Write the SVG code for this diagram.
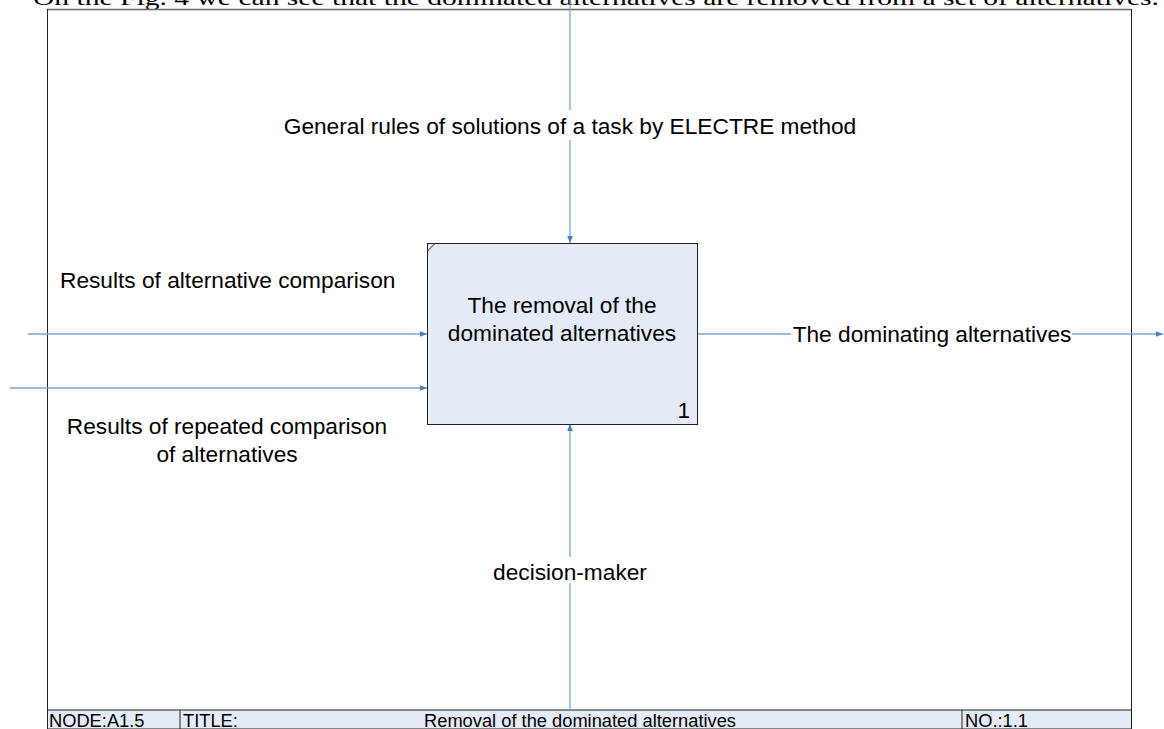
<svg xmlns="http://www.w3.org/2000/svg" width="1164" height="729" viewBox="0 0 1164 729">
<style>
text{font-family:"Liberation Sans",Arial,sans-serif;font-size:22.7px;fill:#000}
.ft{font-size:18.3px}
.ln{stroke:#7fa3d8;stroke-width:1.3;fill:none}
.fr{stroke:#222;stroke-width:1;fill:none}
</style>
<defs>
<marker id="ah" viewBox="0 0 10 10" refX="10" refY="5" markerWidth="7" markerHeight="7" markerUnits="userSpaceOnUse" orient="auto">
<path d="M0,1 L10,5 L0,9 z" fill="#4a7ebb"/>
</marker>
</defs>
<rect width="1164" height="729" fill="#fff"/>
<text x="33" y="5" style="font-family:'Liberation Serif','Times New Roman',serif;font-size:22px" textLength="1126" lengthAdjust="spacingAndGlyphs">On the Fig. 4 we can see that the dominated alternatives are removed from a set of alternatives.</text>
<g id="frame">
<line x1="47" y1="9.5" x2="1131" y2="9.5" stroke="#666" stroke-width="1.5"/>
<line x1="47.5" y1="9" x2="47.5" y2="729" class="fr"/>
<line x1="1131.5" y1="9" x2="1131.5" y2="729" class="fr"/>
</g>
<g id="footer">
<rect x="47.5" y="710" width="1084" height="19" fill="#e4ebf6" stroke="#222" stroke-width="1"/>
<line x1="180" y1="710" x2="180" y2="729" stroke="#222"/>
<line x1="962" y1="710" x2="962" y2="729" stroke="#222"/>
<text class="ft" x="49" y="727">NODE:A1.5</text>
<text class="ft" x="183" y="727">TITLE:</text>
<text class="ft" x="580" y="727" text-anchor="middle">Removal of the dominated alternatives</text>
<text class="ft" x="965" y="727">NO.:1.1</text>
</g>
<g id="connectors">
<line class="ln" x1="570" y1="0" x2="570" y2="110"/>
<line class="ln" x1="570" y1="140" x2="570" y2="243" marker-end="url(#ah)"/>
<line class="ln" x1="28" y1="334" x2="427" y2="334" marker-end="url(#ah)"/>
<line class="ln" x1="10" y1="388" x2="427" y2="388" marker-end="url(#ah)"/>
<line class="ln" x1="697" y1="334" x2="791" y2="334"/>
<line class="ln" x1="1072" y1="334" x2="1163" y2="334" marker-end="url(#ah)"/>
<line class="ln" x1="570" y1="710" x2="570" y2="583"/>
<line class="ln" x1="570" y1="557" x2="570" y2="424" marker-end="url(#ah)"/>
</g>
<g id="labels">
<text x="570" y="134" text-anchor="middle">General rules of solutions of a task by ELECTRE method</text>
<text x="60" y="288">Results of alternative comparison</text>
<text x="227" y="434" text-anchor="middle">Results of repeated comparison</text>
<text x="227" y="462" text-anchor="middle">of alternatives</text>
<text x="932" y="342" text-anchor="middle">The dominating alternatives</text>
<text x="570" y="580" text-anchor="middle">decision-maker</text>
</g>
<g id="node1">
<rect x="427.5" y="243.5" width="270" height="181" fill="#e4ebf6" stroke="#222" stroke-width="1"/>
<line x1="427.5" y1="251" x2="435" y2="243.5" stroke="#222"/>
<text x="562" y="313" text-anchor="middle">The removal of the</text>
<text x="562" y="341" text-anchor="middle">dominated alternatives</text>
<text x="690" y="418" text-anchor="end">1</text>
</g>
</svg>
